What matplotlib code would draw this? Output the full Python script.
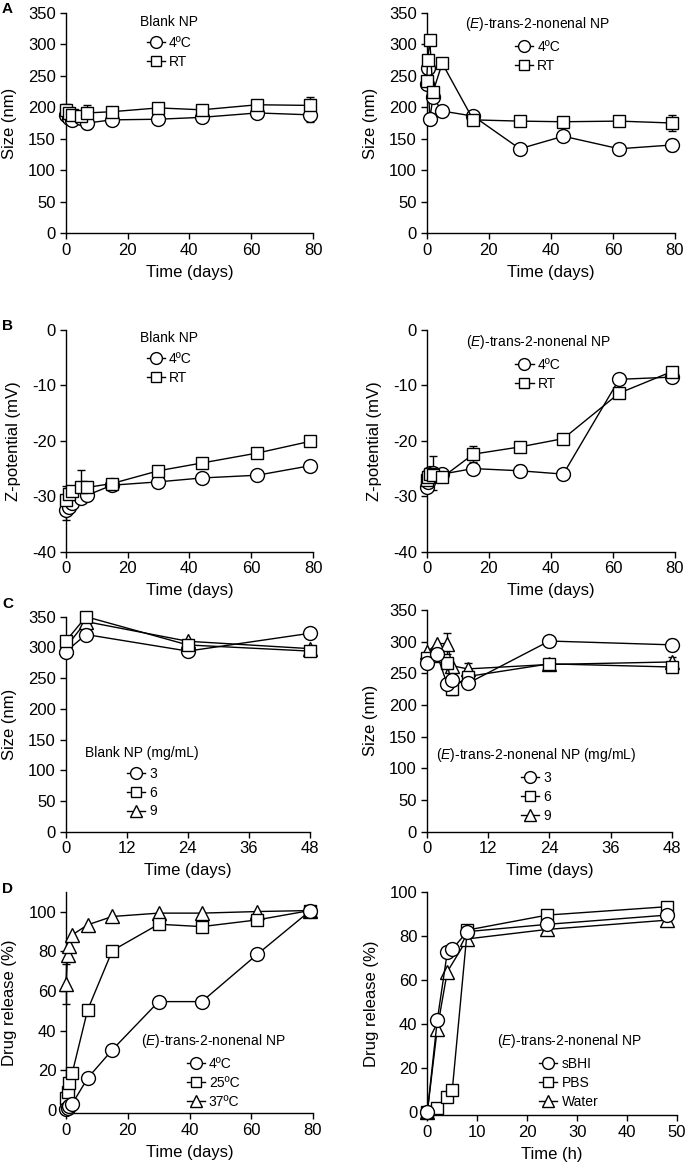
import matplotlib
matplotlib.use('Agg')
import matplotlib.pyplot as plt
from matplotlib.lines import Line2D
import numpy as np

plt.rcParams['font.family'] = ['Liberation Sans', 'DejaVu Sans']
plt.rcParams['mathtext.fontset'] = 'custom'
plt.rcParams['mathtext.it'] = 'Liberation Sans:italic'
plt.rcParams['mathtext.rm'] = 'Liberation Sans'
plt.rcParams['axes.unicode_minus'] = False

# ---------------- DATA ----------------
# Panel A: size (nm) over days
a_blank_t = [0, 1, 2, 5, 7, 15, 30, 44, 62, 79]
a_blank_4c = [188, 183, 179, 183, 175, 180, 181, 184, 191, 188]
a_blank_4c_err = [8, 0, 0, 0, 10, 0, 0, 8, 0, 12]
a_blank_rt = [196, 191, 188, 186, 191, 193, 199, 196, 204, 203]
a_blank_rt_err = [10, 0, 0, 0, 12, 0, 0, 0, 0, 14]

a_non_t = [0, 0.3, 1, 2, 5, 15, 30, 44, 62, 79]
a_non_4c = [237, 263, 181, 216, 194, 186, 134, 154, 134, 140]
a_non_4c_err = [0, 0, 0, 0, 0, 0, 0, 0, 0, 10]
a_non_rt = [242, 275, 307, 224, 270, 180, 178, 177, 178, 175]
a_non_rt_err = [0, 0, 0, 0, 0, 0, 6, 0, 0, 12]

# Panel B: Z-potential (mV) over days
b_blank_t = [0, 1, 2, 5, 7, 15, 30, 44, 62, 79]
b_blank_4c = [-32.5, -31.9, -31.3, -30.4, -29.8, -28.0, -27.4, -26.7, -26.2, -24.5]
b_blank_4c_err = [1.7, 0, 0, 0, 0, 0, 0, 0, 0, 0]
b_blank_rt = [-30.7, -29.5, -29.0, -28.3, -28.4, -27.7, -25.4, -24.0, -22.2, -20.1]
b_blank_rt_err = [2.5, 0, 0, 3, 0, 0, 0, 0, 0, 0]

b_non_t = [0, 0.3, 1, 2, 5, 15, 30, 44, 62, 79]
b_non_4c = [-28.3, -27.4, -25.8, -25.8, -26.0, -25.0, -25.4, -26.0, -8.9, -8.5]
b_non_4c_err = [0, 0, 0, 3, 0, 0, 1, 0, 0, 0]
b_non_rt = [-27.0, -26.5, -26.0, -26.2, -26.6, -22.4, -21.1, -19.6, -11.4, -7.5]
b_non_rt_err = [0, 0, 0, 0, 0, 1.4, 0, 0, 0, 0]

# Panel C: size (nm) vs concentration over days
c_blank_t = [0, 4, 24, 48]
c_blank_3 = [293, 321, 294, 323]
c_blank_6 = [310, 350, 304, 294]
c_blank_9 = [300, 342, 310, 298]
c_blank_6_err = [0, 0, 0, 5]

c_non_t = [0, 2, 4, 5, 8, 24, 48]
c_non_3 = [266, 280, 233, 239.5, 234, 301, 295]
c_non_3_err = [0, 0, 0, 0, 0, 0, 10]
c_non_6 = [274, 278, 267, 226, 245, 265, 260]
c_non_6_err = [0, 0, 0, 10, 0, 0, 0]
c_non_9 = [283, 297, 297, 262, 257, 264, 268]
c_non_9_err = [0, 0, 16, 0, 10, 0, 8]

# Panel D: drug release (%)
d_temp_t = [0, 0.5, 1, 2, 7, 15, 30, 44, 62, 79]
d_4c = [0.4, 1.2, 2.2, 3.0, 16.0, 30.3, 54.6, 54.6, 78.5, 100.3]
d_25c = [5.9, 9.2, 13.4, 18.5, 50.4, 80.3, 93.6, 92.4, 95.8, 100.5]
d_37c = [63.5, 78.2, 82.7, 88.2, 93.3, 97.5, 99.2, 99.2, 100.0, 100.5]
d_37c_err = [10, 0, 0, 0, 0, 0, 0, 0, 0, 0]

d_med_t = [0, 2, 4, 5, 8, 24, 48]
d_sbhi = [0, 41.8, 72.5, 74.0, 81.9, 85.2, 89.4]
d_pbs = [0, 1.8, 6.8, 10.1, 82.6, 89.4, 93.2]
d_water_t = [0, 2, 4, 8, 24, 48]
d_water = [0, 38, 63.7, 78.6, 82.9, 87.1]

# ---------------- STYLE ----------------
W, H = 688, 1163
fig = plt.figure(figsize=(W / 100, H / 100), dpi=100)

MS = 10
LW = 1.0
FS_TICK = 12
FS_LAB = 12
FS_LEG = 10
ETITLE = r'($\it{E}$)-trans-2-nonenal NP'


def px_axes(l, r, t, b):
    return fig.add_axes([l / W, 1 - b / H, (r - l) / W, (b - t) / H])


def style(ax, xlim, ylim, xticks, yticks, xlabel, ylabel):
    ax.set_xlim(*xlim)
    ax.set_ylim(*ylim)
    ax.set_xticks(xticks)
    ax.set_yticks(yticks)
    for s in ['top', 'right']:
        ax.spines[s].set_visible(False)
    for s in ['left', 'bottom']:
        ax.spines[s].set_linewidth(1.0)
    ax.tick_params(direction='out', length=4, width=1.0, labelsize=FS_TICK, pad=3)
    ax.set_xlabel(xlabel, fontsize=FS_LAB, labelpad=5)
    ax.set_ylabel(ylabel, fontsize=FS_LAB, labelpad=8)


def series(ax, t, v, marker, err=None, ms=MS, z=3):
    t = np.asarray(t, float)
    v = np.asarray(v, float)
    if err is not None:
        e = np.asarray(err, float)
        m = e > 0
        if m.any():
            ax.errorbar(t[m], v[m], yerr=e[m], fmt='none', ecolor='k',
                        elinewidth=1.0, capsize=3, capthick=1.0, zorder=z - 0.5,
                        clip_on=False)
    ax.plot(t, v, color='k', lw=LW, marker=marker, ms=ms, mfc='white',
            mec='k', mew=1.0, zorder=z, clip_on=False)


def handle(marker, ms=8):
    return Line2D([], [], color='k', lw=LW, marker=marker, ms=ms, mfc='white',
                  mec='k', mew=1.0)


def legend(ax, labels, markers, title, x, y):
    hs = [handle(m, 7.5 if m == 's' else 8.5) for m in markers]
    lg = ax.legend(hs, labels, title=title, loc='upper center',
                   bbox_to_anchor=(x, y), frameon=False, fontsize=FS_LEG,
                   title_fontsize=FS_LEG, handlelength=1.3, handletextpad=0.3,
                   borderpad=0, borderaxespad=0, labelspacing=0.35)
    lg._legend_box.sep = 5


# ---------- Panel A ----------
ax = px_axes(65.7, 313, 13, 233)
series(ax, a_blank_t, a_blank_4c, 'o', a_blank_4c_err)
series(ax, a_blank_t, a_blank_rt, 's', a_blank_rt_err, ms=MS * 0.9)
style(ax, (0, 80), (0, 350), range(0, 81, 20), range(0, 351, 50), 'Time (days)', 'Size (nm)')
legend(ax, ['4ºC', 'RT'], ['o', 's'], 'Blank NP', 0.418, 0.99)

ax = px_axes(426.7, 675, 13, 233)
series(ax, a_non_t, a_non_4c, 'o', a_non_4c_err)
series(ax, a_non_t, a_non_rt, 's', a_non_rt_err, ms=MS * 0.9)
style(ax, (0, 80), (0, 350), range(0, 81, 20), range(0, 351, 50), 'Time (days)', 'Size (nm)')
legend(ax, ['4ºC', 'RT'], ['o', 's'], ETITLE, 0.446, 0.99)

# ---------- Panel B ----------
ax = px_axes(65.7, 313, 330, 551.7)
series(ax, b_blank_t, b_blank_4c, 'o', b_blank_4c_err)
series(ax, b_blank_t, b_blank_rt, 's', b_blank_rt_err, ms=MS * 0.9)
style(ax, (0, 80), (-40, 0), range(0, 81, 20), range(-40, 1, 10), 'Time (days)', 'Z-potential (mV)')
legend(ax, ['4ºC', 'RT'], ['o', 's'], 'Blank NP', 0.418, 0.995)

ax = px_axes(426.7, 675, 330, 551.7)
series(ax, b_non_t, b_non_4c, 'o', b_non_4c_err)
series(ax, b_non_t, b_non_rt, 's', b_non_rt_err, ms=MS * 0.9)
style(ax, (0, 80), (-40, 0), range(0, 81, 20), range(-40, 1, 10), 'Time (days)', 'Z-potential (mV)')
legend(ax, ['4ºC', 'RT'], ['o', 's'], ETITLE, 0.448, 0.985)

# ---------- Panel C ----------
ax = px_axes(65.7, 310, 616.7, 831.7)
series(ax, c_blank_t, c_blank_9, '^')
series(ax, c_blank_t, c_blank_3, 'o')
series(ax, c_blank_t, c_blank_6, 's', c_blank_6_err, ms=MS * 0.9)
style(ax, (0, 48), (0, 350), range(0, 49, 12), range(0, 351, 50), 'Time (days)', 'Size (nm)')
legend(ax, ['3', '6', '9'], ['o', 's', '^'], 'Blank NP (mg/mL)', 0.312, 0.40)

ax = px_axes(426.7, 672, 610, 831.7)
series(ax, c_non_t, c_non_9, '^', c_non_9_err)
series(ax, c_non_t, c_non_6, 's', c_non_6_err, ms=MS * 0.9)
series(ax, c_non_t, c_non_3, 'o', c_non_3_err)
style(ax, (0, 48), (0, 350), range(0, 49, 12), range(0, 351, 50), 'Time (days)', 'Size (nm)')
legend(ax, ['3', '6', '9'], ['o', 's', '^'], ETITLE[:-2] + 'NP (mg/mL)', 0.447, 0.385)

# ---------- Panel D ----------
ax = px_axes(66, 313, 891.7, 1113.3)
series(ax, d_temp_t, d_37c, '^', d_37c_err)
series(ax, d_temp_t, d_25c, 's', ms=MS * 0.9)
series(ax, d_temp_t, d_4c, 'o')
style(ax, (0, 80), (-1.7, 110), range(0, 81, 20), range(0, 101, 20), 'Time (days)', 'Drug release (%)')
legend(ax, ['4ºC', '25ºC', '37ºC'], ['o', 's', '^'], ETITLE, 0.595, 0.365)

ax = px_axes(427.3, 677, 891.7, 1115)
series(ax, d_water_t, d_water, '^')
series(ax, d_med_t, d_pbs, 's', ms=MS * 0.9)
series(ax, d_med_t, d_sbhi, 'o')
style(ax, (0, 50), (-1.2, 100), range(0, 51, 10), range(0, 101, 20), 'Time (h)', 'Drug release (%)')
legend(ax, ['sBHI', 'PBS', 'Water'], ['o', 's', '^'], ETITLE, 0.567, 0.37)

# panel letters
for letter, ypx in [('A', 9), ('B', 326), ('C', 604), ('D', 889)]:
    fig.text(2 / W, 1 - ypx / H, letter, fontsize=11, fontweight='bold', va='center', ha='left')

fig.savefig('out.png', dpi=100)
